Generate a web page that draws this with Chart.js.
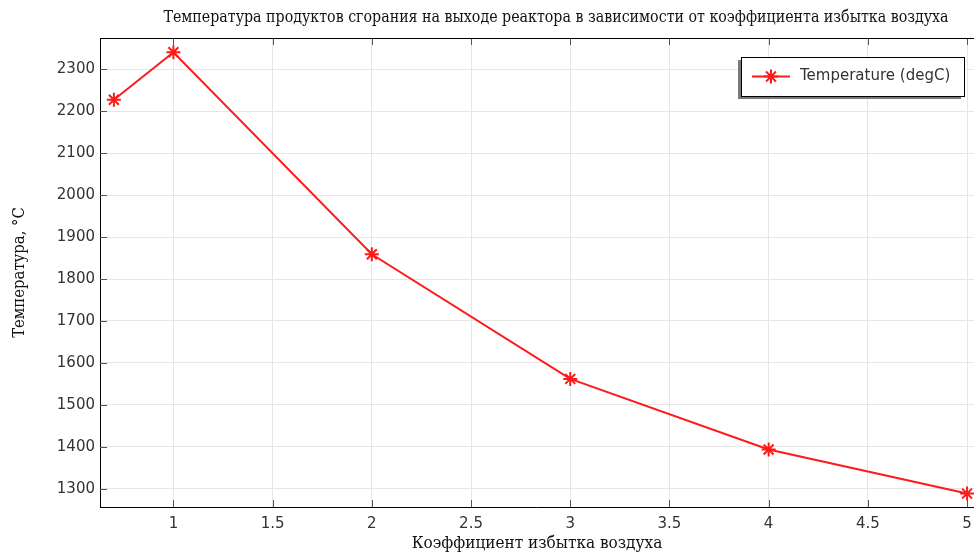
<!DOCTYPE html>
<html>
<head>
<meta charset="utf-8">
<script src="https://cdn.jsdelivr.net/npm/chart.js@4"></script>
<style>
  html, body { margin: 0; padding: 0; background: #fff; }
  #wrap { width: 974px; height: 553px; }
</style>
</head>
<body>
<div id="wrap"><canvas id="chart"></canvas></div>
<script>
const excessAir = [0.7, 1, 2, 3, 4, 5];
const temperature = [2227, 2340, 1859, 1562, 1394, 1289];
const xTickValues = [1, 1.5, 2, 2.5, 3, 3.5, 4, 4.5, 5];
const yTickValues = [1300, 1400, 1500, 1600, 1700, 1800, 1900, 2000, 2100, 2200, 2300];
const seriesLabel = 'Temperature (degC)';
const chartTitle = 'Температура продуктов сгорания на выходе реактора в зависимости от коэффициента избытка воздуха';
const xTitle = 'Коэффициент избытка воздуха';
const yTitle = 'Температура, °C';

const serif = '"DejaVu Serif Condensed", "DejaVu Serif", serif';
const sans = '"DejaVu Sans", sans-serif';

// title, frame, inward tick marks and the boxed legend
const framePlugin = {
    id: 'frame',
    afterDraw(chart) {
        const { ctx, chartArea: a, scales } = chart;
        ctx.save();
        ctx.fillStyle = '#111';
        ctx.font = '15.8px ' + serif;
        ctx.textAlign = 'center';
        ctx.textBaseline = 'middle';
        ctx.fillText(chartTitle, 556, 18);

        ctx.strokeStyle = '#555';
        ctx.lineWidth = 1;
        scales.x.ticks.forEach(t => {
            const px = Math.round(scales.x.getPixelForValue(t.value)) + 0.5;
            ctx.beginPath(); ctx.moveTo(px, a.bottom); ctx.lineTo(px, a.bottom - 7); ctx.stroke();
            ctx.beginPath(); ctx.moveTo(px, a.top); ctx.lineTo(px, a.top + 7); ctx.stroke();
        });
        scales.y.ticks.forEach(t => {
            const py = Math.round(scales.y.getPixelForValue(t.value)) + 0.5;
            ctx.beginPath(); ctx.moveTo(a.left, py); ctx.lineTo(a.left + 7, py); ctx.stroke();
        });
        ctx.strokeStyle = '#000';
        ctx.beginPath();
        ctx.moveTo(a.left, a.top + 0.5); ctx.lineTo(a.right, a.top + 0.5);
        ctx.stroke();

        // legend
        const ds = chart.data.datasets[0];
        const bx = 741, by = 57, bw = 223, bh = 39;
        ctx.fillStyle = '#7a7a7a';
        ctx.fillRect(bx - 3, by + 3, bw, bh);
        ctx.fillStyle = '#fff';
        ctx.fillRect(bx, by, bw, bh);
        ctx.strokeStyle = '#000';
        ctx.strokeRect(bx + 0.5, by + 0.5, bw, bh);
        const cy = by + bh / 2;
        ctx.strokeStyle = ds.borderColor;
        ctx.lineWidth = 2;
        ctx.beginPath(); ctx.moveTo(752, cy); ctx.lineTo(790, cy); ctx.stroke();
        Chart.helpers.drawPoint(ctx, { pointStyle: 'star', radius: 7, borderWidth: 2 }, 771, cy);
        ctx.fillStyle = '#333';
        ctx.font = '15px ' + sans;
        ctx.textAlign = 'left';
        ctx.fillText(ds.label, 800, cy);
        ctx.restore();
    }
};

new Chart(document.getElementById('chart'), {
    type: 'line',
    data: {
        datasets: [{
            label: seriesLabel,
            data: excessAir.map((x, i) => ({ x: x, y: temperature[i] })),
            borderColor: '#ff1a1a',
            backgroundColor: '#ff1a1a',
            borderWidth: 2,
            pointStyle: 'star',
            pointRadius: 7,
            pointBorderWidth: 2,
            tension: 0
        }]
    },
    options: {
        responsive: true,
        maintainAspectRatio: false,
        animation: false,
        layout: { padding: { top: 38, left: 0, right: 0, bottom: 0 }, autoPadding: false },
        plugins: {
            legend: { display: false },
            tooltip: { enabled: false },
            title: { display: false }
        },
        scales: {
            x: {
                type: 'linear',
                min: 0.63,
                max: 5.035,
                afterBuildTicks: s => { s.ticks = xTickValues.map(v => ({ value: v })); },
                afterFit: s => { s.height = 46; s.paddingRight = 0; },
                ticks: {
                    padding: 8,
                    color: '#333',
                    font: { family: sans, size: 15 },
                    callback: v => String(v)
                },
                grid: { color: '#e6e6e6', drawTicks: false },
                border: { color: '#000', width: 1 },
                title: {
                    display: true,
                    text: xTitle,
                    color: '#111',
                    font: { family: serif, size: 17, lineHeight: 1 },
                    padding: { top: 0, bottom: 1 }
                }
            },
            y: {
                type: 'linear',
                min: 1257,
                max: 2374,
                afterBuildTicks: s => { s.ticks = yTickValues.map(v => ({ value: v })); },
                afterFit: s => { s.width = 100; },
                ticks: {
                    padding: 5,
                    color: '#333',
                    font: { family: sans, size: 15 },
                    callback: v => String(v)
                },
                grid: { color: '#e6e6e6', drawTicks: false },
                border: { color: '#000', width: 1 },
                title: {
                    display: true,
                    text: yTitle,
                    color: '#111',
                    font: { family: serif, size: 16.5 },
                    padding: { top: 10, bottom: 0 }
                }
            }
        }
    },
    plugins: [framePlugin]
});
</script>
</body>
</html>
